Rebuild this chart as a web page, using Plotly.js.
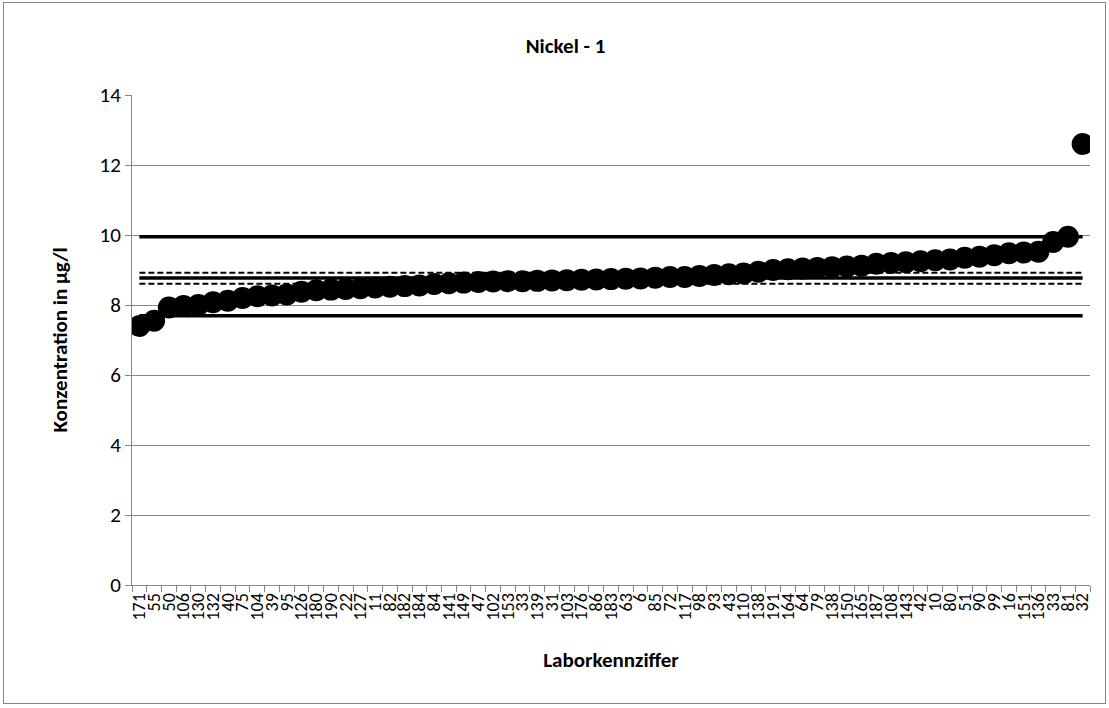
<!DOCTYPE html>
<html>
<head>
<meta charset="utf-8">
<script src="https://cdn.plot.ly/plotly-3.0.1.min.js"></script>
<style>
  html, body { margin: 0; padding: 0; background: #fff; }
  #frame { position: absolute; left: 3px; top: 2px; width: 1103px; height: 702px; border: 1px solid #868686; box-sizing: border-box; }
  #chart { position: absolute; left: 0; top: 0; width: 1109px; height: 708px; }
</style>
</head>
<body>
<div id="frame"></div>
<div id="chart"></div>
<script>
const labCodes = ["171","55","50","106","130","132","40","75","104","39","95","126","180","190","22","127","11","82","182","184","84","141","149","47","102","153","33","139","31","103","176","86","183","63","6","85","72","117","98","93","43","110","138","191","164","64","79","138","150","165","187","108","143","42","10","80","51","90","99","16","151","136","33","81","32"];
const concentrations = [7.40,7.55,7.93,7.97,8.00,8.08,8.12,8.20,8.25,8.27,8.30,8.38,8.42,8.44,8.46,8.48,8.50,8.52,8.54,8.56,8.60,8.62,8.64,8.66,8.67,8.68,8.68,8.69,8.70,8.71,8.72,8.73,8.74,8.75,8.76,8.78,8.80,8.80,8.83,8.86,8.88,8.90,8.95,9.00,9.02,9.04,9.06,9.08,9.10,9.12,9.18,9.20,9.22,9.25,9.28,9.30,9.35,9.38,9.42,9.48,9.50,9.52,9.80,9.95,12.60];
const assignedValue = 8.77;
const upperLimit = 9.95;
const lowerLimit = 7.69;
const upperUncertainty = 8.92;
const lowerUncertainty = 8.61;

const idx = labCodes.map((_, i) => i);
const flat = v => idx.map(() => v);
const font = "Carlito, Lato, 'Liberation Sans', sans-serif";

const lineTrace = (v, w, dash) => ({
  x: idx, y: flat(v), type: 'scatter', mode: 'lines',
  line: {color: '#000', width: w, dash: dash}, hoverinfo: 'skip', showlegend: false
});

const data = [
  lineTrace(upperLimit, 3.5, 'solid'),
  lineTrace(lowerLimit, 3.5, 'solid'),
  lineTrace(assignedValue, 3.5, 'solid'),
  lineTrace(upperUncertainty, 2, '6px,3px'),
  lineTrace(lowerUncertainty, 2, '6px,3px'),
  {
    x: idx, y: concentrations, type: 'scatter', mode: 'markers',
    marker: {color: '#000', size: 22, line: {width: 0}}, showlegend: false
  }
];

const layout = {
  width: 1109, height: 708,
  paper_bgcolor: 'rgba(0,0,0,0)', plot_bgcolor: '#fff',
  margin: {l: 132, r: 19, t: 95, b: 123},
  font: {family: font, color: '#000'},
  showlegend: false,
  title: {text: '<b>Nickel - 1</b>', font: {size: 21, family: font}, x: 0.51, xanchor: 'center', y: 0.935, yanchor: 'middle'},
  xaxis: {
    range: [-0.5, labCodes.length - 0.5],
    tickmode: 'array', tickvals: idx, ticktext: labCodes,
    tickangle: -90, tickfont: {size: 18, family: font},
    ticks: '', showgrid: false, zeroline: false,
    showline: true, linecolor: '#868686', linewidth: 1,
    minor: {tick0: 0.5, dtick: 1, ticks: 'outside', ticklen: 6, tickcolor: '#868686', tickwidth: 1, showgrid: false},
    title: {text: '<b>Laborkennziffer</b>', font: {size: 21, family: font}, standoff: 32},
    fixedrange: true
  },
  yaxis: {
    range: [0, 14], dtick: 2, tickmode: 'linear', tick0: 0,
    tickfont: {size: 21, family: font},
    ticks: 'outside', ticklen: 6, tickcolor: '#868686',
    showgrid: true, gridcolor: '#868686', gridwidth: 1,
    zeroline: false, showline: true, linecolor: '#868686', linewidth: 1,
    title: {text: '<b>Konzentration in µg/l</b>', font: {size: 21, family: font}, standoff: 26},
    fixedrange: true
  }
};

Plotly.newPlot('chart', data, layout, {displayModeBar: false, staticPlot: true});
</script>
</body>
</html>
